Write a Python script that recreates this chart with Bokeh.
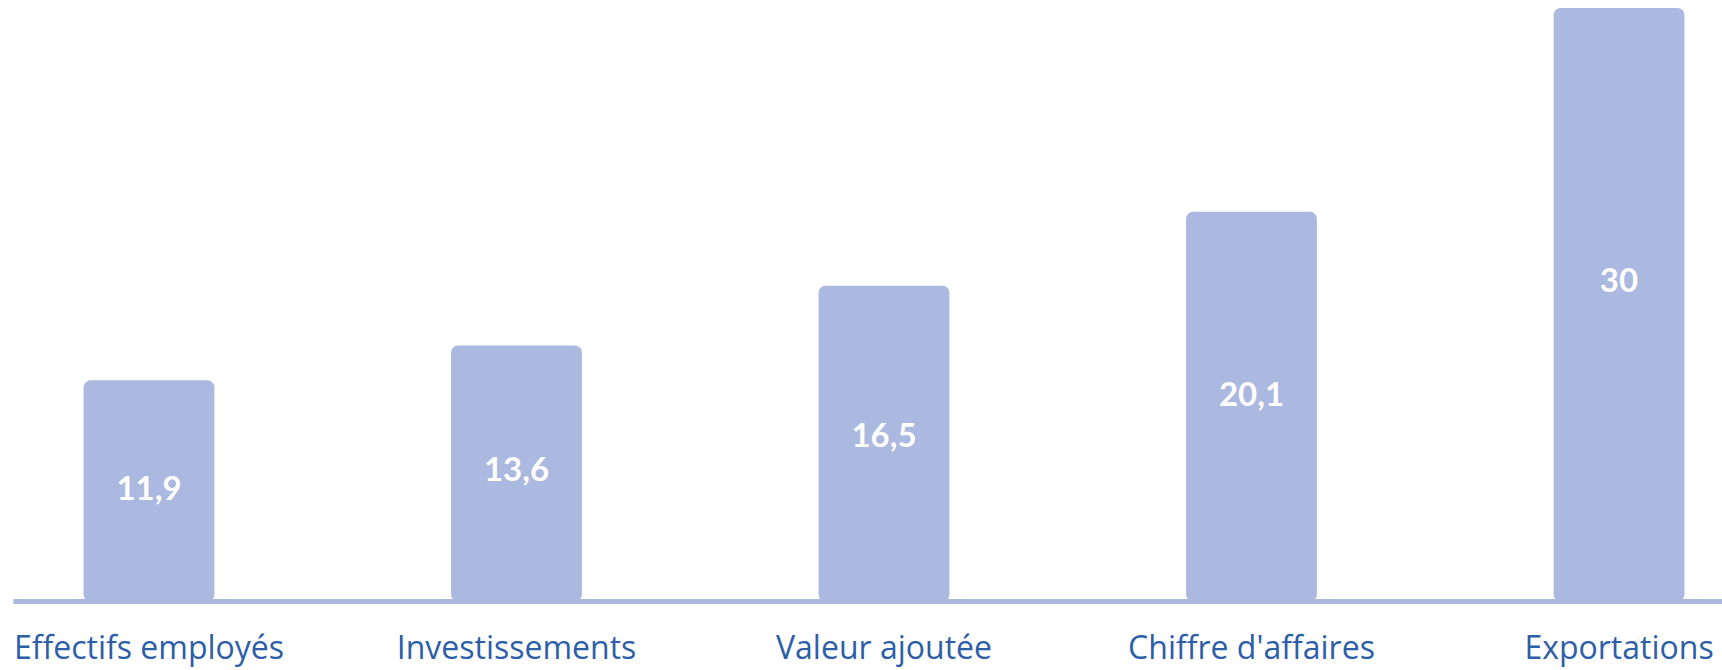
from bokeh.plotting import figure
from bokeh.models import Range1d, FixedTicker, ColumnDataSource
from bokeh.core.properties import value
from bokeh.embed import file_html
from bokeh.resources import INLINE

categories = ["Effectifs employés", "Investissements", "Valeur ajoutée", "Chiffre d'affaires", "Exportations"]
values = [11.9, 13.6, 16.5, 20.1, 30]
value_labels = ["11,9", "13,6", "16,5", "20,1", "30"]

BAR = "#abb8e0"
TXT = "#2d5ea8"
y0 = 1.154

idx = list(range(len(categories)))
src = ColumnDataSource(dict(
    x=idx,
    top=values,
    ly=[v * 0.56 for v in values],
    label=value_labels,
))

p = figure(width=1722, height=670, output_backend="svg", toolbar_location=None,
           x_range=Range1d(-0.3687, 4.2816), y_range=Range1d(y0, 30.36),
           min_border_left=13, min_border_right=0, min_border_top=0, min_border_bottom=69)

p.vbar(x="x", top="top", bottom=y0, width=0.356, source=src,
       fill_color=BAR, line_color=None, border_radius=7)

p.text(x="x", y="ly", text="label", source=src, text_color="white",
       text_font=value("Lato"), text_font_style="bold", text_font_size="33px",
       text_align="center", text_baseline="middle")

ax = p.xaxis[0]
ax.ticker = FixedTicker(ticks=idx)
ax.major_label_overrides = {i: c for i, c in enumerate(categories)}
ax.axis_line_color = BAR
ax.axis_line_width = 5
ax.major_tick_line_color = None
ax.minor_tick_line_color = None
ax.major_label_text_font = "Open Sans"
ax.major_label_text_font_size = "32px"
ax.major_label_text_color = TXT
ax.major_label_standoff = 17

p.yaxis.visible = False
p.xgrid.visible = False
p.ygrid.visible = False
p.outline_line_color = None
p.background_fill_color = "white"
p.border_fill_color = "white"

open("out.html", "w").write(file_html(p, INLINE))
